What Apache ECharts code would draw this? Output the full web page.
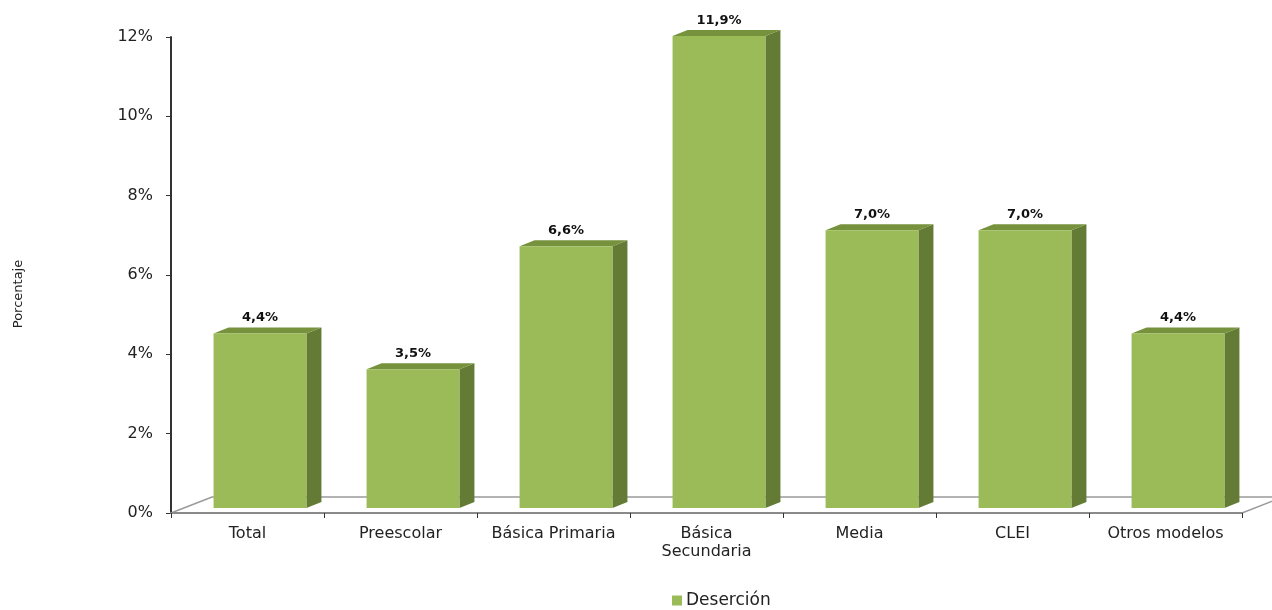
<!DOCTYPE html>
<html>
<head>
<meta charset="utf-8">
<script src="https://cdn.jsdelivr.net/npm/echarts@6/dist/echarts.min.js"></script>
<style>
html,body{margin:0;padding:0;background:#fff;}
#main{width:1272px;height:610px;}
</style>
</head>
<body>
<div id="main"></div>
<script>
const categories = ['Total', 'Preescolar', 'Básica Primaria', 'Básica\nSecundaria', 'Media', 'CLEI', 'Otros modelos'];
const desercion = [4.4, 3.5, 6.6, 11.9, 7.0, 7.0, 4.4];
const yTicks = [0, 2, 4, 6, 8, 10, 12];
const seriesName = 'Deserción';
const axisTitle = 'Porcentaje';

const FONT = '"DejaVu Sans", "Liberation Sans", Arial, sans-serif';
const FRONT = '#9BBB59', SIDE = '#647B35', TOP = '#76923C';

const chart = echarts.init(document.getElementById('main'));

function fmt(v) { return v.toFixed(1).replace('.', ',') + '%'; }

chart.setOption({
  animation: false,
  backgroundColor: '#fff',
  grid: { left: 171, right: 30, top: 37, bottom: 97 },
  legend: {
    data: [seriesName],
    top: 592,
    left: 672,
    padding: 0,
    itemWidth: 10, itemHeight: 10, itemGap: 4,
    icon: 'rect',
    textStyle: { fontFamily: FONT, fontSize: 17, color: '#222', padding: [0, 0, 0, -1] }
  },
  graphic: [{
    type: 'text',
    x: 19, y: 294,
    rotation: Math.PI / 2,
    style: { text: axisTitle, fontFamily: FONT, fontSize: 13, fill: '#222', align: 'center', verticalAlign: 'middle' }
  }],
  xAxis: {
    type: 'category',
    data: categories,
    axisLine: { lineStyle: { color: '#8a8a8a', width: 2 } },
    axisTick: { show: true, inside: false, length: 5, lineStyle: { color: '#333' } },
    axisLabel: { fontFamily: FONT, fontSize: 16, color: '#222', margin: 12, lineHeight: 18, interval: 0 },
    z: 1
  },
  yAxis: {
    type: 'value',
    min: yTicks[0], max: yTicks[yTicks.length - 1], interval: 2,
    axisLine: { show: true, lineStyle: { color: '#333', width: 2 } },
    axisTick: { show: true, length: 5, lineStyle: { color: '#333' } },
    splitLine: { show: false },
    axisLabel: { fontFamily: FONT, fontSize: 16, color: '#222', margin: 18, formatter: '{value}%' }
  },
  series: [
    {
      type: 'custom',
      name: 'floor',
      data: [[0, 0]],
      clip: false,
      silent: true,
      z: 0,
      renderItem: function (params, api) {
        const cs = params.coordSys;
        const y0 = cs.y + cs.height;
        const dx = 41, dy = -16;
        const l = cs.x, r = cs.x + cs.width;
        return {
          type: 'group',
          children: [
            { type: 'polygon', shape: { points: [[l, y0], [l + dx, y0 + dy], [r + dx, y0 + dy], [r, y0]] },
              style: { fill: '#fff', stroke: null } },
            { type: 'polyline', shape: { points: [[l, y0], [l + dx, y0 + dy], [r + dx, y0 + dy], [r, y0]] },
              style: { fill: null, stroke: '#9a9a9a', lineWidth: 1.5 } }
          ]
        };
      }
    },
    {
      type: 'custom',
      name: seriesName,
      data: desercion.map((v, i) => [i, v]),
      encode: { x: 0, y: 1 },
      clip: false,
      z: 3,
      itemStyle: { color: FRONT },
      renderItem: function (params, api) {
        const idx = api.value(0), val = api.value(1);
        const top = api.coord([idx, val]);
        const base = api.coord([idx, 0]);
        const bw = api.size([1, 0])[0] * 0.607;
        const ox = 12.5, oy = -5;   // bar front depth offset
        const ddx = 15, ddy = -6;   // bar depth
        const xl = top[0] + ox - bw / 2, xr = top[0] + ox + bw / 2;
        const yt = top[1] + oy, yb = base[1] + oy;
        return {
          type: 'group',
          children: [
            { type: 'polygon', shape: { points: [[xr, yt], [xr + ddx, yt + ddy], [xr + ddx, yb + ddy], [xr, yb]] },
              style: { fill: SIDE } },
            { type: 'polygon', shape: { points: [[xl, yt], [xl + ddx, yt + ddy], [xr + ddx, yt + ddy], [xr, yt]] },
              style: { fill: TOP } },
            { type: 'rect', shape: { x: xl, y: yt, width: bw, height: yb - yt },
              style: { fill: FRONT } },
            { type: 'text', x: (xl + xr) / 2, y: yt + ddy - 3,
              style: { text: fmt(val), fontFamily: FONT, fontSize: 13, fontWeight: 'bold', fill: '#111', align: 'center', verticalAlign: 'bottom' } }
          ]
        };
      }
    }
  ]
});
</script>
</body>
</html>
